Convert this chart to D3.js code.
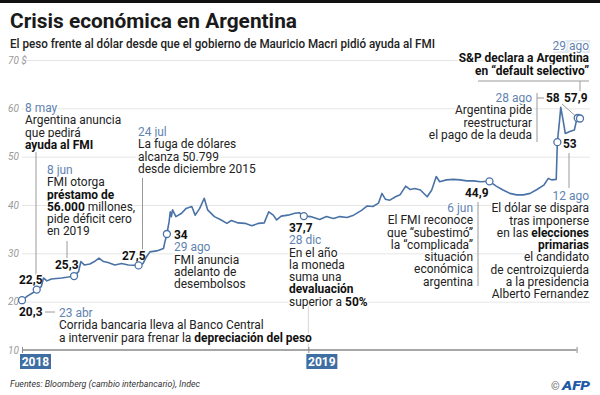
<!DOCTYPE html>
<html>
<head>
<meta charset="utf-8">
<script src="https://cdn.jsdelivr.net/npm/d3@7"></script>
<style>
  body { margin: 0; background: #fff; }
  svg { display: block; font-family: Roboto, sans-serif; }
  .halo { paint-order: stroke; stroke: #fff; stroke-width: 3px; stroke-linejoin: round; }
</style>
</head>
<body>
<svg width="600" height="395"></svg>
<script>
(function (d3) {
  'use strict';

  // Serie: pesos por dólar (cambio interbancario)
  const fechas = [
    '2018-04-23', '2018-04-28', '2018-05-03', '2018-05-06', '2018-05-10', '2018-05-12',
    '2018-05-15', '2018-05-19', '2018-05-28', '2018-06-03', '2018-06-08', '2018-06-12',
    '2018-06-14', '2018-06-17', '2018-06-22', '2018-06-26', '2018-06-30', '2018-07-04',
    '2018-07-08', '2018-07-14', '2018-07-20', '2018-07-26', '2018-08-04', '2018-08-08',
    '2018-08-11', '2018-08-14', '2018-08-20', '2018-08-26', '2018-08-27', '2018-08-29',
    '2018-08-31', '2018-09-01', '2018-09-02', '2018-09-03', '2018-09-06', '2018-09-11',
    '2018-09-15', '2018-09-20', '2018-09-23', '2018-09-27', '2018-10-01', '2018-10-04',
    '2018-10-10', '2018-10-16', '2018-10-21', '2018-10-25', '2018-10-31', '2018-11-06',
    '2018-11-12', '2018-11-18', '2018-11-23', '2018-11-27', '2018-12-01', '2018-12-04',
    '2018-12-08', '2018-12-14', '2018-12-20', '2018-12-24', '2018-12-28', '2019-01-03',
    '2019-01-11', '2019-01-17', '2019-01-23', '2019-01-29', '2019-02-04', '2019-02-10',
    '2019-02-17', '2019-02-22', '2019-02-27', '2019-03-04', '2019-03-07', '2019-03-10',
    '2019-03-14', '2019-03-19', '2019-03-23', '2019-03-28', '2019-04-01', '2019-04-05',
    '2019-04-10', '2019-04-16', '2019-04-20', '2019-04-24', '2019-04-27', '2019-05-03',
    '2019-05-09', '2019-05-15', '2019-05-21', '2019-05-27', '2019-06-02', '2019-06-10',
    '2019-06-16', '2019-06-22', '2019-06-28', '2019-07-04', '2019-07-10', '2019-07-16',
    '2019-07-22', '2019-07-28', '2019-08-01', '2019-08-04', '2019-08-08', '2019-08-09',
    '2019-08-11', '2019-08-12', '2019-08-14', '2019-08-16', '2019-08-20', '2019-08-24',
    '2019-08-26', '2019-08-27', '2019-08-29'
  ];
  const pesos = [
    20.3, 21.2, 21.9, 22.5, 23.1, 24.9,
    24.3, 24.7, 24.9, 25.1, 25.3, 26.2,
    28.3, 27.6, 27.8, 28.3, 29.0, 28.3,
    28.1, 27.6, 27.9, 27.6, 27.5, 27.9,
    29.3, 30.3, 30.5, 31.0, 32.1, 34,
    36.6, 38.6, 37.6, 39.0, 37.6, 38.3,
    39.3, 39.7, 37.9, 39.3, 41.4, 39.0,
    37.6, 36.9, 36.2, 36.8, 36.3, 36.2,
    35.7, 36.2, 36.3, 38.6, 37.9, 36.9,
    37.7, 37.9, 38.3, 38.4, 37.7, 37.6,
    37.0, 37.6, 37.2, 37.6, 37.4, 37.9,
    38.9, 39.8, 39.7, 40.4, 42.4, 41.2,
    41.0, 41.7, 42.1, 43.9, 43.2, 43.4,
    43.1, 41.7, 43.1, 45.9, 44.8, 45.2,
    45.3, 45.2, 45.0, 45.0, 44.8, 44.9,
    43.9, 43.1, 42.4, 42.1, 42.1, 42.4,
    43.2, 44.1, 45.5, 45.2, 45.3, 53,
    57.6, 60.2, 57.6, 54.8, 55.2, 55.5,
    57.6, 58, 57.9
  ];

  // Hitos marcados con un círculo
  const hitosFechas = ['2018-04-23', '2018-05-06', '2018-06-08', '2018-08-04', '2018-08-29',
    '2018-12-28', '2019-06-10', '2019-08-09', '2019-08-27', '2019-08-29'];
  const hitosValores = [20.3, 22.5, 25.3, 27.5, 34, 37.7, 44.9, 53, 58, 57.9];

  const ticksY = [10, 20, 30, 40, 50, 60, 70];
  const aniosFechas = ['2018-04-23', '2019-01-01'];
  const aniosEtiquetas = ['2018', '2019'];
  const finEje = '2019-08-26';

  const svg = d3.select('svg');
  const parse = d3.timeParse('%Y-%m-%d');
  const serie = fechas.map((f, i) => ({ fecha: parse(f), valor: pesos[i] }));
  const hitos = hitosFechas.map((f, i) => ({ fecha: parse(f), valor: hitosValores[i] }));

  const azul = '#4a72a6';
  const azulFecha = '#5f83b0';
  const gris = '#9a9a9a';

  // Escalas
  const x = d3.scaleTime()
    .domain(d3.extent(serie, d => d.fecha))
    .range([22, 580]);
  const y = d3.scaleLinear()
    .domain([10, 70])
    .range([350, 60]);

  // Barra negra superior
  svg.append('rect')
    .attr('width', 600).attr('height', 3)
    .attr('fill', '#111');

  // Título y subtítulo
  svg.append('text')
    .attr('x', 10).attr('y', 28)
    .attr('font-size', 21).attr('font-weight', 700)
    .attr('fill', '#1a1a1a')
    .attr('textLength', 287).attr('lengthAdjust', 'spacingAndGlyphs')
    .text('Crisis económica en Argentina');

  svg.append('text')
    .attr('x', 10).attr('y', 48)
    .attr('font-size', 12).attr('font-weight', 500)
    .attr('fill', '#222')
    .attr('textLength', 425).attr('lengthAdjust', 'spacingAndGlyphs')
    .text('El peso frente al dólar desde que el gobierno de Mauricio Macri pidió ayuda al FMI');

  // Grilla horizontal con el eje de la librería
  const grilla = svg.append('g')
    .attr('transform', 'translate(22,0)')
    .call(d3.axisRight(y)
      .tickValues(ticksY)
      .tickSize(568)
      .tickFormat(d => d === 70 ? '70 $' : d));
  grilla.select('.domain').remove();
  grilla.selectAll('.tick line')
    .attr('stroke', '#e6e6e6')
    .attr('stroke-width', 1)
    .attr('display', d => d === 10 ? 'none' : null);
  grilla.selectAll('.tick text')
    .attr('x', -14)
    .attr('text-anchor', 'start')
    .attr('font-family', 'Roboto, sans-serif')
    .attr('font-size', 10)
    .attr('font-style', 'italic')
    .attr('fill', '#9a9a9a');

  // Línea tenue de 2019
  svg.append('line')
    .attr('x1', x(parse('2019-01-01'))).attr('x2', x(parse('2019-01-01')))
    .attr('y1', 305).attr('y2', 350)
    .attr('stroke', '#d6d6d6');

  // Eje X
  const tickFechas = aniosFechas.concat([finEje]).map(parse);
  const ejeX = svg.append('g')
    .attr('transform', 'translate(0,347)')
    .call(d3.axisBottom(x).tickValues(tickFechas).tickSize(6).tickFormat(''));
  ejeX.select('.domain').remove();
  ejeX.selectAll('.tick line').attr('stroke', '#8a8a8a').attr('stroke-width', 1);
  ejeX.append('line')
    .attr('x1', x(tickFechas[0])).attr('x2', x(tickFechas[tickFechas.length - 1]))
    .attr('y1', 3).attr('y2', 3)
    .attr('stroke', '#8a8a8a').attr('stroke-width', 1.5);

  const anios = svg.append('g')
    .selectAll('g')
    .data(aniosFechas.map(parse))
    .join('g')
      .attr('transform', d => `translate(${x(d) - 2},354)`);
  anios.append('rect')
    .attr('width', 31).attr('height', 15)
    .attr('fill', '#3f6ea3');
  anios.append('text')
    .attr('x', 15.5).attr('y', 12)
    .attr('text-anchor', 'middle')
    .attr('font-size', 12).attr('font-weight', 700)
    .attr('fill', '#fff')
    .text((d, i) => aniosEtiquetas[i]);

  // Conectores de las anotaciones
  const conectores = [
    [36, 152, 36, 275],
    [67, 241, 67, 258],
    [142.5, 178, 142.5, 250],
    [45, 312, 55, 312],
    [478, 202, 478, 286],
    [569, 153, 569, 188],
    [537, 93, 537, 142],
    [537, 98, 544, 98],
    [478, 81, 589, 81],
    [580, 81, 580, 91],
    [562, 104, x(hitos[8].fecha), y(hitos[8].valor)]
  ];
  svg.append('g')
    .selectAll('line')
    .data(conectores)
    .join('line')
      .attr('x1', d => d[0]).attr('y1', d => d[1])
      .attr('x2', d => d[2]).attr('y2', d => d[3])
      .attr('stroke', gris)
      .attr('stroke-width', 1);

  // Fondo del "29 ago"
  svg.append('rect')
    .attr('x', 553).attr('y', 40)
    .attr('width', 37).attr('height', 13)
    .attr('fill', '#dfe7f1');

  // Anotaciones: '@' = fecha, **negrita**
  const notas = [
    { x: 25, y: 112, lineas: ['@8 may', 'Argentina anuncia', 'que pedirá', '**ayuda al FMI**'] },
    { x: 47, y: 174, lineas: ['@8 jun', 'FMI otorga', '**préstamo de**', '**56.000** millones,', 'pide déficit cero', 'en 2019'] },
    { x: 138, y: 136, lineas: ['@24 jul', 'La fuga de dólares', 'alcanza 50.799', 'desde diciembre 2015'] },
    { x: 174, y: 239, lineas: ['**34**', '@29 ago', 'FMI anuncia', 'adelanto de', 'desembolsos'] },
    { x: 289, y: 232, lineas: ['**37,7**', '@28 dic', 'En el año', 'la moneda', 'suma una', '**devaluación**', 'superior a **50%**'] },
    { x: 59, y: 317, lineas: ['@23 abr', 'Corrida bancaria lleva al Banco Central', 'a intervenir para frenar la **depreciación del peso**'] },
    { x: 473, y: 212, fin: true, lineas: ['@6 jun', 'El FMI reconoce', 'que “subestimó”', 'la “complicada”', 'situación', 'económica', 'argentina'] },
    { x: 589, y: 200, fin: true, lineas: ['@12 ago', 'El dólar se dispara', 'tras imponerse', 'en las **elecciones**', '**primarias**', 'el candidato', 'de centroizquierda', 'a la presidencia', 'Alberto Fernandez'] },
    { x: 532, y: 102, fin: true, lineas: ['@28 ago', 'Argentina pide', 'reestructurar', 'el pago de la deuda'] },
    { x: 589, y: 50, fin: true, lineas: ['@29 ago', '**S&P declara a Argentina**', '**en “default selectivo”**'] },
    { x: 19, y: 316, lineas: ['**20,3**'] },
    { x: 19, y: 284, lineas: ['**22,5**'] },
    { x: 55, y: 269, lineas: ['**25,3**'] },
    { x: 122, y: 260, lineas: ['**27,5**'] },
    { x: 465, y: 197, lineas: ['**44,9**'] },
    { x: 563, y: 148, lineas: ['**53**'] },
    { x: 546, y: 102, lineas: ['**58**'] },
    { x: 564, y: 102, lineas: ['**57,9**'] }
  ];

  const interlineado = 12.3;

  // Un <text> por renglón, apenas comprimido para imitar la tipografía angosta
  notas.forEach(nota => {
    const grupo = svg.append('g')
      .attr('transform', `translate(${nota.x},0) scale(0.95,1)`);

    nota.lineas.forEach((linea, i) => {
      const esFecha = linea.startsWith('@');
      const texto = grupo.append('text')
        .attr('class', 'halo')
        .attr('x', 0)
        .attr('y', nota.y + i * interlineado)
        .attr('text-anchor', nota.fin ? 'end' : 'start')
        .attr('font-size', 12.6)
        .attr('fill', esFecha ? azulFecha : '#222');

      (esFecha ? linea.slice(1) : linea).split('**').forEach((parte, j) => {
        if (!parte) return;
        const ts = texto.append('tspan').text(parte);
        if (j % 2 === 1) ts.attr('font-weight', 700).attr('fill', '#111');
      });
    });
  });

  // Línea de la serie
  const linea = d3.line()
    .x(d => x(d.fecha))
    .y(d => y(d.valor));

  svg.append('path')
    .datum(serie)
    .attr('fill', 'none')
    .attr('stroke', azul)
    .attr('stroke-width', 1.6)
    .attr('stroke-linejoin', 'round')
    .attr('d', linea);

  // Círculos de los hitos
  svg.append('g')
    .selectAll('circle')
    .data(hitos)
    .join('circle')
      .attr('cx', d => x(d.fecha))
      .attr('cy', d => y(d.valor))
      .attr('r', 3.5)
      .attr('fill', '#fff')
      .attr('stroke', azul)
      .attr('stroke-width', 1.3);

  // Fuente y crédito
  svg.append('text')
    .attr('x', 10).attr('y', 387)
    .attr('font-size', 9.5).attr('font-style', 'italic')
    .attr('fill', '#333')
    .attr('textLength', 190).attr('lengthAdjust', 'spacingAndGlyphs')
    .text('Fuentes: Bloomberg (cambio interbancario), Indec');

  svg.append('text')
    .attr('x', 551).attr('y', 390)
    .attr('font-size', 11)
    .attr('fill', '#666')
    .text('©');

  svg.append('text')
    .attr('x', 562).attr('y', 390)
    .attr('font-size', 13).attr('font-weight', 900).attr('font-style', 'italic')
    .attr('fill', '#1f5aa6')
    .attr('textLength', 28).attr('lengthAdjust', 'spacingAndGlyphs')
    .text('AFP');

}(d3));
</script>
</body>
</html>
